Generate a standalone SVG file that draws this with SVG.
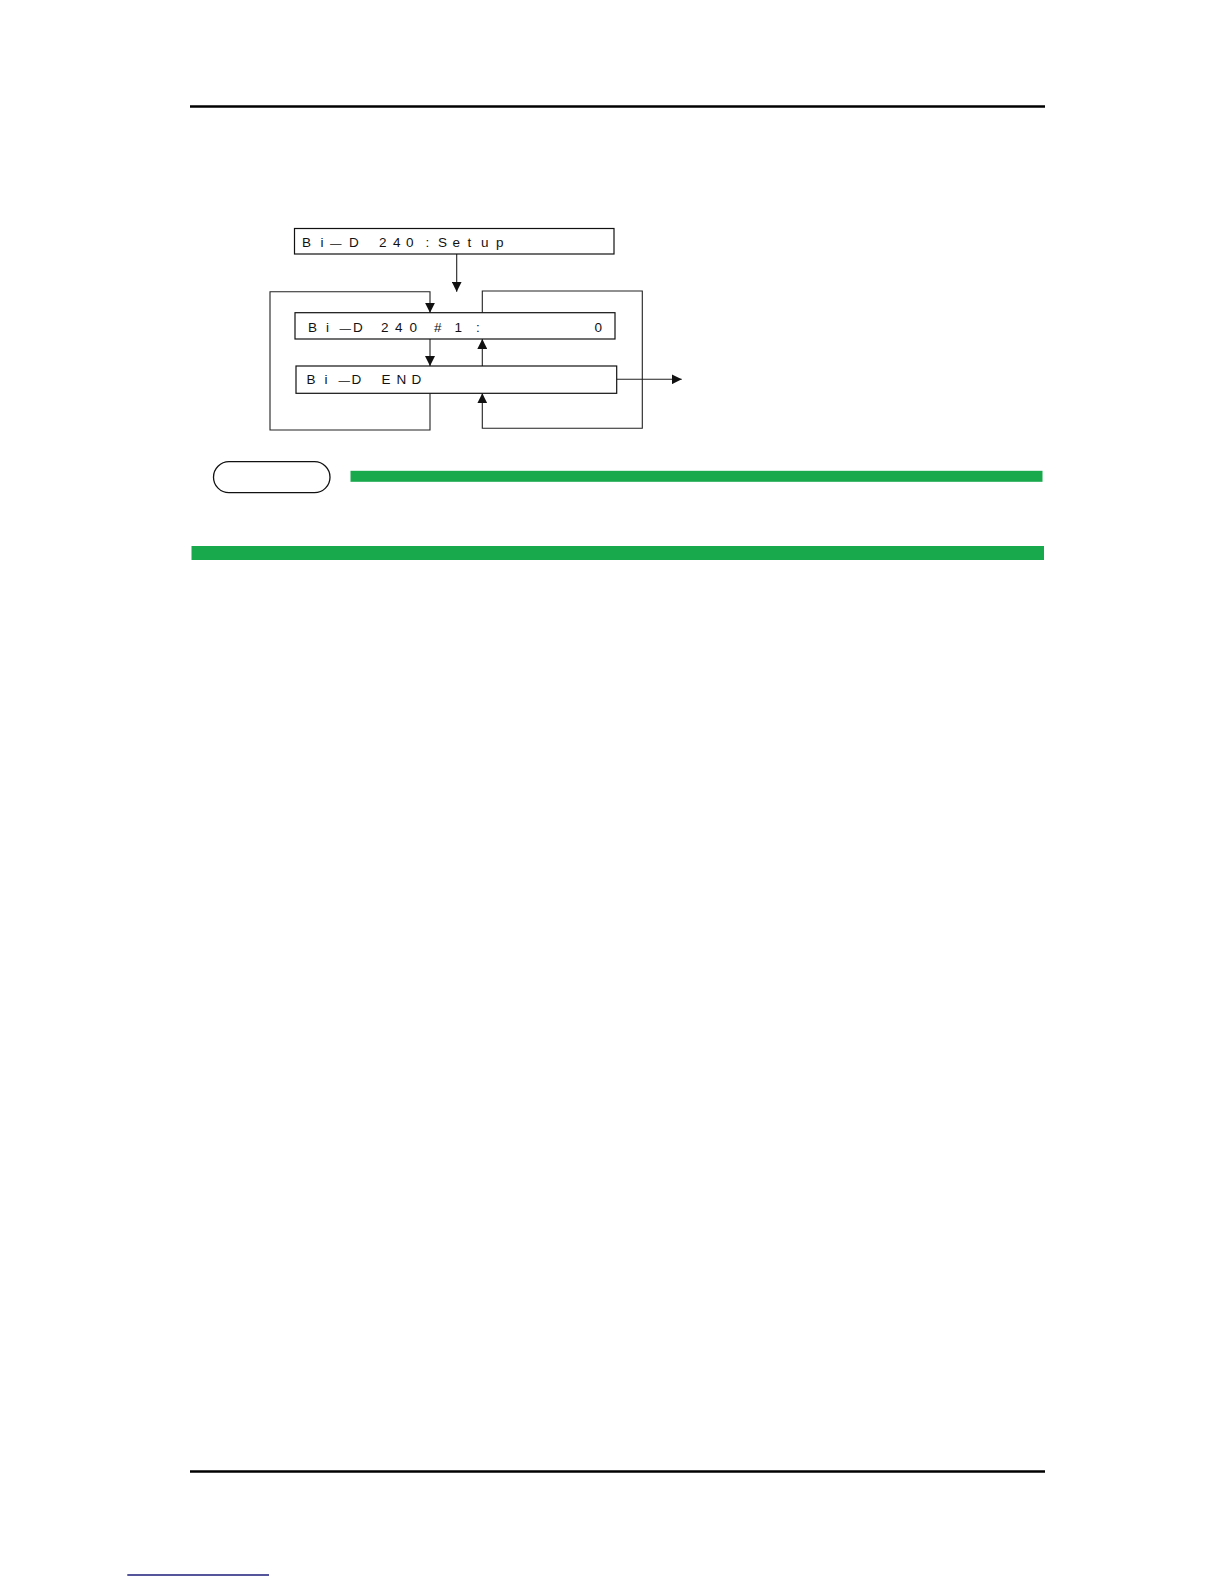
<svg xmlns="http://www.w3.org/2000/svg" width="1224" height="1584" viewBox="0 0 1224 1584">
<style>
.box{fill:#fff;stroke:#111;stroke-width:1.2}
.lbl{font-family:"Liberation Sans",Arial,sans-serif;font-size:13.5px;fill:#111}
.dash{font-size:11.5px}
.conn{fill:none;stroke:#222;stroke-width:1.1}
.rule{stroke:#000;stroke-width:2.5}
.green{fill:#17a94c}
</style>
<defs>
<marker id="arr" markerUnits="userSpaceOnUse" markerWidth="10" markerHeight="10" refX="10" refY="5" orient="auto" viewBox="0 0 10 10">
<path d="M0,0 L10,5 L0,10 z" fill="#111"/>
</marker>
</defs>
<rect width="1224" height="1584" fill="#fff"/>
<line class="rule" x1="190" y1="106.5" x2="1045" y2="106.5"/>
<g id="connectors">
<path class="conn" d="M456.7,254 V291.7" marker-end="url(#arr)"/>
<path class="conn" d="M430,393.3 V430 H270 V291.7 H430 V312.7" marker-end="url(#arr)"/>
<path class="conn" d="M430,339 V366" marker-end="url(#arr)"/>
<path class="conn" d="M482.3,366 V339" marker-end="url(#arr)"/>
<path class="conn" d="M482.3,312.7 V291 H642.3 V428.3 H482.3 V393.3" marker-end="url(#arr)"/>
<path class="conn" d="M616.7,379.3 H681.7" marker-end="url(#arr)"/>
</g>
<g id="node-setup">
<rect class="box" x="294.5" y="228.5" width="319.5" height="25.5"/>
<text class="lbl" y="246.8"><tspan x="302 320.5">Bi</tspan><tspan class="dash" x="330">—</tspan><tspan x="349 379 393 406 425.5 438 452.5 467.5 481 496">D240:Setup</tspan></text>
</g>
<g id="node-bid240">
<rect class="box" x="295" y="312.7" width="320" height="26.3"/>
<text class="lbl" y="331.8"><tspan x="308 326">Bi</tspan><tspan class="dash" x="339.5">—</tspan><tspan x="353 381 395 409.5 434 454.5 476">D240#1:</tspan></text>
<text class="lbl" x="594.5" y="331.8">0</text>
</g>
<g id="node-bidend">
<rect class="box" x="296" y="366" width="320.7" height="27.3"/>
<text class="lbl" y="383.6"><tspan x="306.5 324.5">Bi</tspan><tspan class="dash" x="338.5">—</tspan><tspan x="351.5 381.5 396.5 411.5">DEND</tspan></text>
</g>
<rect x="213.5" y="461.7" width="116.5" height="31" rx="15.5" ry="15.5" fill="#fff" stroke="#111" stroke-width="1.3"/>
<rect class="green" x="350.5" y="470.8" width="692" height="11"/>
<rect class="green" x="191.5" y="546" width="852.5" height="14"/>
<line class="rule" x1="190" y1="1471.5" x2="1045" y2="1471.5"/>
<line x1="127.3" y1="1575" x2="269" y2="1575" stroke="#1c1c7a" stroke-width="1.5"/>
</svg>
